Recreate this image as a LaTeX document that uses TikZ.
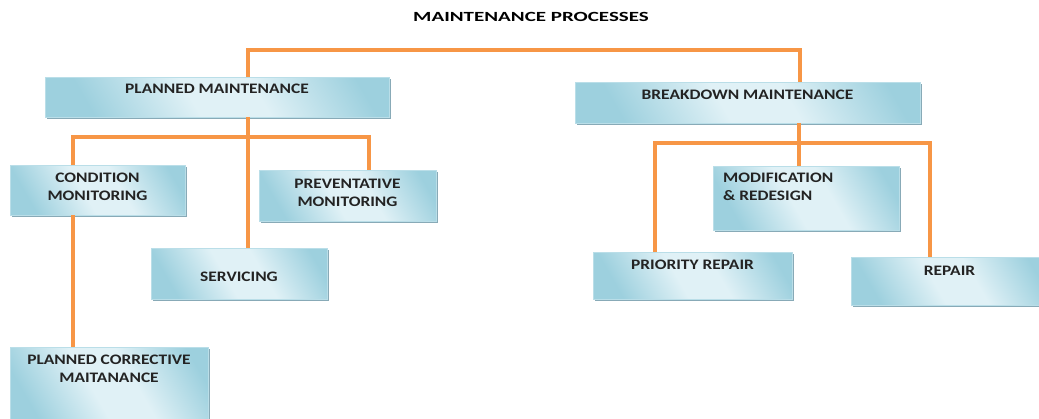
\documentclass[tikz,border=0pt]{standalone}
\usepackage{fontspec}
\usepackage{graphicx}
\setmainfont{Carlito}
\usetikzlibrary{shadows}
\definecolor{conn}{HTML}{F79646}
\definecolor{boxin}{HTML}{E0F1F6}
\definecolor{boxout}{HTML}{9DD0DE}
\definecolor{boxedge}{HTML}{88AAB7}
\definecolor{txt}{HTML}{232323}
\pgfdeclarehorizontalshading{boxshade}{100bp}{color(0bp)=(boxout); color(25bp)=(boxout); color(45bp)=(boxin); color(58bp)=(boxin); color(78bp)=(boxout); color(100bp)=(boxout)}
\newcommand{\bt}[1]{\scalebox{1.2}[1]{#1}}
\tikzset{
  connector/.style={draw=conn, line width=3.5pt},
  box/.style={rectangle, inner sep=0pt, outer sep=0pt, anchor=north west,
    shading=boxshade, shading angle=30, draw=boxout!70!white, line width=0.4pt,
    general shadow={fill=boxedge, shadow xshift=1.5pt, shadow yshift=-2pt}},
  boxtext/.style={font=\bfseries\fontsize{14.5}{17.5}\selectfont, text=txt, inner sep=0pt, align=center},
  titletext/.style={font=\bfseries\fontsize{14}{16}\selectfont, text=black, inner sep=0pt}
}
\begin{document}
\begin{tikzpicture}[x=1pt, y=-1pt]
\useasboundingbox (0,0) rectangle (1039,418);
\clip (0,0) rectangle (1039,418);

\node[titletext] (title) at (531,17) {\scalebox{1.5}[1]{MAINTENANCE PROCESSES}};

% junction coordinates
\coordinate (t1) at (248,50);
\coordinate (t2) at (800,50);
\coordinate (pj) at (248,137);
\coordinate (pl) at (73,137);
\coordinate (pr) at (369,137);
\coordinate (bj) at (799,143);
\coordinate (bl) at (655,143);
\coordinate (br) at (930,143);

% boxes
\node[box, minimum width=344pt, minimum height=40pt,
  label={[boxtext, anchor=north, yshift=-7pt]north:\bt{PLANNED MAINTENANCE}}] (pm) at (45,77) {};
\node[box, minimum width=345pt, minimum height=41pt,
  label={[boxtext, anchor=north, yshift=-8pt]north:\bt{BREAKDOWN MAINTENANCE}}] (bm) at (575,82) {};
\node[box, minimum width=175pt, minimum height=50pt,
  label={[boxtext, anchor=north, yshift=-8pt]north:\bt{CONDITION}\\\bt{MONITORING}}] (cm) at (10,165) {};
\node[box, minimum width=177pt, minimum height=51pt,
  label={[boxtext, anchor=north, yshift=-9pt]north:\bt{PREVENTATIVE}\\\bt{MONITORING}}] (pv) at (259,170) {};
\node[box, minimum width=176pt, minimum height=51pt,
  label={[boxtext, anchor=north, yshift=-24pt]north:\bt{SERVICING}}] (serv) at (151,248) {};
\node[box, minimum width=198pt, minimum height=80pt,
  label={[boxtext, anchor=north, yshift=-8pt]north:\bt{PLANNED CORRECTIVE}\\\bt{MAITANANCE}}] (pcm) at (10,347) {};
\node[box, minimum width=186pt, minimum height=64pt,
  label={[boxtext, align=left, anchor=north west, xshift=10pt, yshift=-7pt]north west:\bt{MODIFICATION}\\\bt{\& REDESIGN}}] (mr) at (713,166) {};
\node[box, minimum width=199pt, minimum height=47pt,
  label={[boxtext, anchor=north, yshift=-8pt]north:\bt{PRIORITY REPAIR}}] (prr) at (593,252) {};
\node[box, minimum width=197pt, minimum height=48pt,
  label={[boxtext, anchor=north, yshift=-9pt]north:\bt{REPAIR}}] (rep) at (851,257) {};

% connectors
\draw[connector] (pm.north -| t1) -- (t1) -- (t2) -- (bm.north -| t2);
\draw[connector] (pm.south -| pj) -- (serv.north -| pj);
\draw[connector] (cm.north -| pl) -- (pl) -- (pr) -- (pv.north -| pr);
\draw[connector] (cm.south -| pl) -- (pcm.north -| pl);
\draw[connector] (bm.south -| bj) -- (mr.north -| bj);
\draw[connector] (prr.north -| bl) -- (bl) -- (br) -- (rep.north -| br);
\end{tikzpicture}
\end{document}
